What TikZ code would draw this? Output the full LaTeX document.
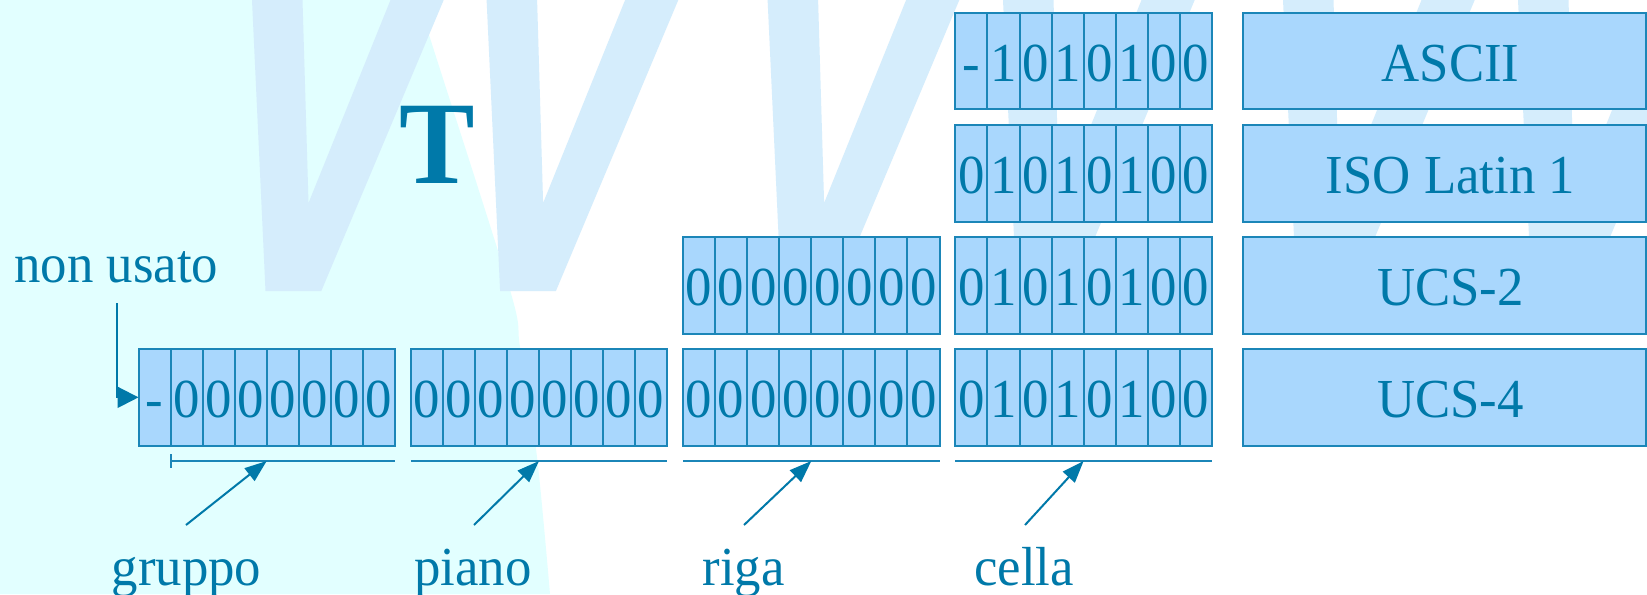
\documentclass[tikz,border=0pt]{standalone}
\usepackage{fontspec}
\setmainfont[FakeStretch=0.96]{Liberation Serif}
\usetikzlibrary{arrows.meta}
\definecolor{bgC}{HTML}{E2FFFF}
\definecolor{wmC}{HTML}{D5EDFC}
\definecolor{boxC}{HTML}{A9D7FD}
\definecolor{lineC}{HTML}{1B86B8}
\definecolor{textC}{HTML}{0079A9}
\newcommand{\mainsz}{\fontsize{27.5pt}{30pt}\selectfont}
\newcommand{\bigTsz}{\fontsize{59pt}{60pt}\selectfont\bfseries}
\newcommand{\bitrow}[4]{%
  \foreach \b [count=\i from 1] in {#4} {%
    \node[cellbox] (#1\i) at ({#2+32.05*(\i-1)},#3) {\b};
  }}
\tikzset{
  cellbox/.style={draw=lineC, fill=boxC, line width=1pt, minimum width=16.025pt,
    minimum height=48.35pt, inner sep=0pt, outer sep=0pt, anchor=north west,
    text=textC, font=\mainsz, text height=20pt, text depth=0pt},
  namebox/.style={cellbox, minimum width=201.8pt},
  arr/.style={draw=textC, line width=1pt, -{Triangle[length=11pt,width=8pt]}},
  arrside/.style={draw=textC, line width=1pt, -{Triangle[length=10.5pt,width=10.5pt]}},
  uline/.style={draw=lineC, line width=1pt},
  lbl/.style={text=textC, font=\mainsz, inner sep=0pt, anchor=base},
  wm/.style={fill=wmC}
}
\begin{document}
\begin{tikzpicture}[x=0.5pt,y=-0.5pt]
\useasboundingbox (0,0) rectangle (1647,594);
\clip (0,0) rectangle (1647,594);
\fill[white] (0,0) rectangle (1647,594);
% cyan background region
\fill[bgC] (0,0) -- plot[smooth] coordinates {(418,0) (430,38) (510,290) (520,347) (537,457) (550,594)} -- (0,594) -- cycle;
% watermark strokes
\foreach \L in {252,486.6,767.6,1003,1283,1518}
  \fill[wm,shift={(\L,0)}] (0,0) -- (50.5,0) -- (56.5,203) -- (138.5,0) -- (191.7,0) -- (69.3,291) -- (13.5,291) -- cycle;
% big T
\node[text=textC, font=\bigTsz, inner sep=0pt, anchor=base] (T) at (437,183.7) {T};
% bit cells
\bitrow{as}{955.4}{12.7}{-,1,0,1,0,1,0,0}
\bitrow{is}{955.4}{124.8}{0,1,0,1,0,1,0,0}
\bitrow{ur}{683.1}{236.9}{0,0,0,0,0,0,0,0}
\bitrow{uc}{955.4}{236.9}{0,1,0,1,0,1,0,0}
\bitrow{g}{138.5}{349}{-,0,0,0,0,0,0,0}
\bitrow{p}{410.8}{349}{0,0,0,0,0,0,0,0}
\bitrow{r}{683.1}{349}{0,0,0,0,0,0,0,0}
\bitrow{c}{955.4}{349}{0,1,0,1,0,1,0,0}
% name boxes
\node[namebox] (ascii) at (1242.7,12.7) {\hspace*{6pt}ASCII};
\node[namebox] (iso) at (1242.7,124.8) {\hspace*{6pt}ISO Latin 1};
\node[namebox] (ucs2) at (1242.7,236.9) {\hspace*{6pt}UCS-2};
\node[namebox] (ucs4) at (1242.7,349) {\hspace*{6pt}UCS-4};
% underlines
\coordinate (gl) at ([yshift=-7.65pt]g2.south west);
\coordinate (gr) at ([yshift=-7.65pt]g8.south east);
\coordinate (gt) at ([yshift=-7.65pt]g4.south east);
\coordinate (pl) at ([yshift=-7.65pt]p1.south west);
\coordinate (pr) at ([yshift=-7.65pt]p8.south east);
\coordinate (pt) at ([yshift=-7.65pt]p4.south east);
\coordinate (rl) at ([yshift=-7.65pt]r1.south west);
\coordinate (rr) at ([yshift=-7.65pt]r8.south east);
\coordinate (rt) at ([yshift=-7.65pt]r4.south east);
\coordinate (cl) at ([yshift=-7.65pt]c1.south west);
\coordinate (cr) at ([yshift=-7.65pt]c8.south east);
\coordinate (ct) at ([yshift=-7.65pt]c4.south east);
\draw[uline] (gl) -- (gr);
\draw[uline] ([yshift=3.5pt]gl) -- ([yshift=-3.5pt]gl);
\draw[uline] (pl) -- (pr);
\draw[uline] (rl) -- (rr);
\draw[uline] (cl) -- (cr);
% labels
\node[lbl] (gruppo) at (186.5,585) {gruppo};
\node[lbl] (piano) at (473,585) {piano};
\node[lbl] (riga) at (743.5,585) {riga};
\node[lbl] (cella) at (1024,585) {cella};
\coordinate (gs) at (186,525);
\coordinate (ps) at (474,525);
\coordinate (rs) at (744,525);
\coordinate (cs) at (1025,525);
\draw[arr] (gs) -- (gt);
\draw[arr] (ps) -- (pt);
\draw[arr] (rs) -- (rt);
\draw[arr] (cs) -- (ct);
% non usato
\node[lbl, anchor=base west] (nonusato) at (14,282) {non usato};
\coordinate (nus) at (117.3,303);
\draw[arrside] (nus) |- (g1.west);
\end{tikzpicture}
\end{document}
